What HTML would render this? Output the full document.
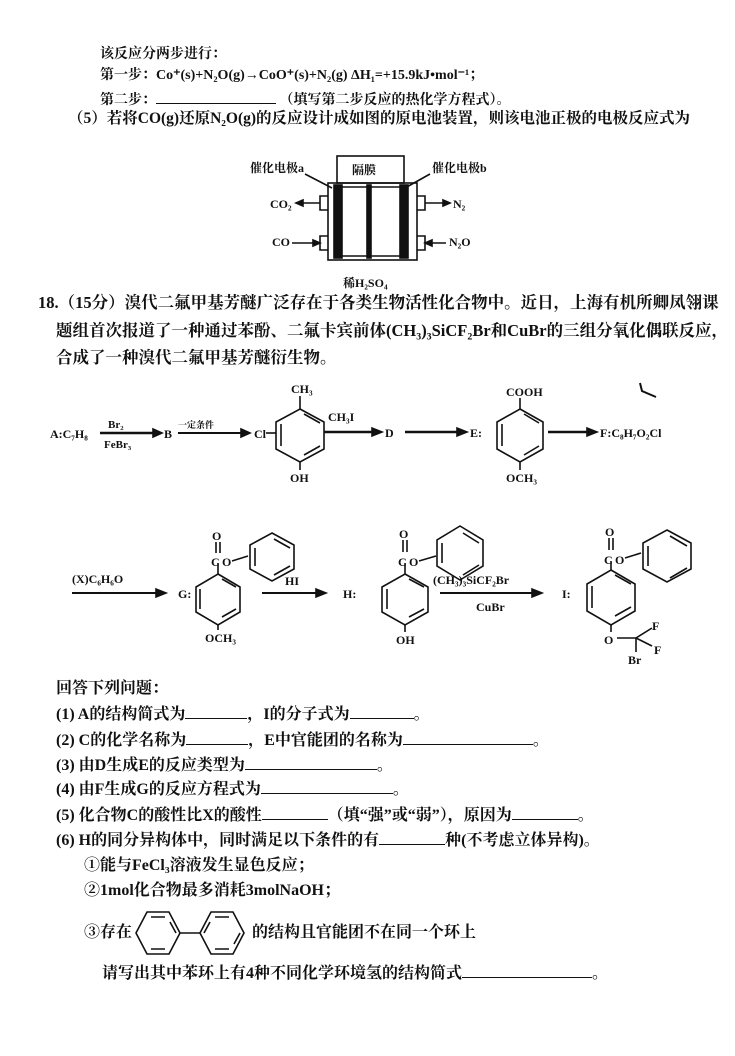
<!DOCTYPE html>
<html><head><meta charset="utf-8"><style>
body{margin:0;width:735px;height:1056px;background:#fff;position:relative;overflow:hidden;font-family:"Liberation Serif","Noto Serif CJK SC","Noto Sans CJK SC",serif;color:#111;font-weight:bold}
.t{position:absolute;white-space:nowrap;font-size:16px;line-height:18px}
.u{display:inline-block;border-bottom:1.5px solid #111;height:13px;vertical-align:baseline}
svg{position:absolute;left:0;top:0}
svg text{font-family:"Liberation Serif","Noto Serif CJK SC",serif;font-weight:bold;fill:#111}
</style></head><body>
<div class="t" style="left:100px;top:46px;font-size:14px">该反应分两步进行：</div>
<div class="t" style="left:100px;top:67px;font-size:14px">第一步：Co⁺(s)+N₂O(g)→CoO⁺(s)+N₂(g) ΔH₁=+15.9kJ•mol⁻¹；</div>
<div class="t" style="left:100px;top:90px;font-size:14px">第二步：<span class="u" style="width:120px"></span> （填写第二步反应的热化学方程式）。</div>
<div class="t" style="left:68px;top:110px;font-size:15.5px">（5）若将CO(g)还原N₂O(g)的反应设计成如图的原电池装置，则该电池正极的电极反应式为</div>
<div class="t" style="left:38px;top:294px;font-size:16.5px">18.（15分）溴代二氟甲基芳醚广泛存在于各类生物活性化合物中。近日，上海有机所卿凤翎课</div>
<div class="t" style="left:56px;top:322px;font-size:16.5px">题组首次报道了一种通过苯酚、二氟卡宾前体(CH₃)₃SiCF₂Br和CuBr的三组分氧化偶联反应，</div>
<div class="t" style="left:56px;top:349px;font-size:16.5px">合成了一种溴代二氟甲基芳醚衍生物。</div>

<div class="t" style="left:56px;top:680px">回答下列问题：</div>
<div class="t" style="left:56px;top:705px">(1) A的结构简式为<span class="u" style="width:62px"></span>，I的分子式为<span class="u" style="width:64px"></span>。</div>
<div class="t" style="left:56px;top:731px">(2) C的化学名称为<span class="u" style="width:62px"></span>，E中官能团的名称为<span class="u" style="width:130px"></span>。</div>
<div class="t" style="left:56px;top:756px">(3) 由D生成E的反应类型为<span class="u" style="width:132px"></span>。</div>
<div class="t" style="left:56px;top:780px">(4) 由F生成G的反应方程式为<span class="u" style="width:132px"></span>。</div>
<div class="t" style="left:56px;top:806px">(5) 化合物C的酸性比X的酸性<span class="u" style="width:66px"></span>（填“强”或“弱”），原因为<span class="u" style="width:66px"></span>。</div>
<div class="t" style="left:56px;top:831px">(6) H的同分异构体中，同时满足以下条件的有<span class="u" style="width:66px"></span>种(不考虑立体异构)。</div>
<div class="t" style="left:84px;top:857px">①能与FeCl₃溶液发生显色反应；</div>
<div class="t" style="left:84px;top:882px">②1mol化合物最多消耗3molNaOH；</div>
<div class="t" style="left:84px;top:924px">③存在</div>
<div class="t" style="left:252px;top:924px">的结构且官能团不在同一个环上</div>
<div class="t" style="left:102px;top:964px">请写出其中苯环上有4种不同化学环境氢的结构简式<span class="u" style="width:130px"></span>。</div>

<svg width="735" height="1056" viewBox="0 0 735 1056" stroke="#111" fill="none" stroke-width="1.6">
<!-- battery -->
<rect x="337" y="156" width="67" height="27"/>
<text x="352" y="174" font-size="12" stroke="none">隔膜</text>
<rect x="328" y="183" width="89" height="77"/>
<rect x="334" y="185" width="8" height="73" fill="#111"/>
<rect x="367" y="185" width="4" height="73" fill="#111"/>
<rect x="400" y="185" width="8" height="73" fill="#111"/>
<line x1="342" y1="187" x2="400" y2="187"/><line x1="342" y1="256" x2="400" y2="256"/>
<text x="250" y="172" font-size="12" stroke="none">催化电极a</text>
<text x="432" y="172" font-size="12" stroke="none">催化电极b</text>
<line x1="305" y1="174" x2="332" y2="188"/><line x1="430" y1="174" x2="405" y2="188"/>
<text x="270" y="208" font-size="12" stroke="none">CO₂</text>
<text x="272" y="246" font-size="12" stroke="none">CO</text>
<text x="453" y="208" font-size="12" stroke="none">N₂</text>
<text x="449" y="246" font-size="12" stroke="none">N₂O</text>
<path d="M328 196h-8v14h8M328 236h-8v14h8M417 196h8v14h-8M417 236h8v14h-8"/>
<line x1="320" y1="203" x2="298" y2="203"/><path d="M296 203l7-3v6z" fill="#111"/>
<line x1="292" y1="243" x2="318" y2="243"/><path d="M320 243l-7-3v6z" fill="#111"/>
<line x1="425" y1="203" x2="448" y2="203"/><path d="M450 203l-7-3v6z" fill="#111"/>
<line x1="446" y1="243" x2="427" y2="243"/><path d="M425 243l7-3v6z" fill="#111"/>
<text x="343" y="287" font-size="12" stroke="none">稀H₂SO₄</text>

<!-- row 1 -->
<text x="50" y="438" font-size="12" stroke="none">A:C₇H₈</text>
<text x="108" y="428" font-size="11" stroke="none">Br₂</text>
<text x="104" y="448" font-size="11" stroke="none">FeBr₃</text>
<line x1="100" y1="433" x2="160" y2="433" stroke-width="2.5"/><path d="M162 433l-9-4v8z" fill="#111"/>
<text x="164" y="438" font-size="12" stroke="none">B</text>
<text x="178" y="428" font-size="9" stroke="none">一定条件</text>
<line x1="178" y1="433" x2="248" y2="433" stroke-width="2"/><path d="M250 433l-9-4v8z" fill="#111"/>
<text x="254" y="438" font-size="12" stroke="none">Cl</text>
<path d="M300 409l24 13v27l-24 13l-24-13v-27z"/>
<path d="M304 414l16 9M320 446l-16 9M281 424v22"/>
<line x1="300" y1="409" x2="300" y2="396"/><line x1="300" y1="462" x2="300" y2="470"/>
<text x="291" y="393" font-size="12" stroke="none">CH₃</text>
<text x="290" y="482" font-size="12" stroke="none">OH</text>
<line x1="266" y1="433" x2="276" y2="433"/>
<text x="328" y="421" font-size="12" stroke="none">CH₃I</text>
<line x1="324" y1="432" x2="378" y2="432" stroke-width="2.5"/><path d="M382 432l-10-4v8z" fill="#111"/>
<text x="385" y="437" font-size="12" stroke="none">D</text>
<line x1="405" y1="432" x2="463" y2="432" stroke-width="2.5"/><path d="M467 432l-10-4v8z" fill="#111"/>
<text x="470" y="437" font-size="12" stroke="none">E:</text>
<path d="M520 409l23 13v27l-23 13l-23-13v-27z"/>
<path d="M524 414l15 9M539 446l-15 9M502 424v22"/>
<line x1="520" y1="409" x2="520" y2="398"/><line x1="520" y1="462" x2="520" y2="470"/>
<text x="506" y="396" font-size="12" stroke="none">COOH</text>
<text x="506" y="482" font-size="12" stroke="none">OCH₃</text>
<line x1="548" y1="432" x2="593" y2="432" stroke-width="2.5"/><path d="M597 432l-10-4v8z" fill="#111"/>
<text x="600" y="437" font-size="12" stroke="none">F:C₈H₇O₂Cl</text>
<path d="M640 383l2 8l14 6" stroke-width="2"/>

<!-- row 2 -->
<text x="72" y="583" font-size="12" stroke="none">(X)C₆H₆O</text>
<line x1="72" y1="593" x2="162" y2="593" stroke-width="2"/><path d="M166 593l-10-4v8z" fill="#111"/>
<text x="178" y="598" font-size="12" stroke="none">G:</text>
<path d="M218 574l22 13v25l-22 13l-22-13v-25z"/>
<path d="M222 579l14 8M236 609l-14 8M200 589v20"/>
<line x1="218" y1="574" x2="218" y2="563"/>
<text x="211" y="566" font-size="12" stroke="none">C</text>
<line x1="216" y1="553" x2="216" y2="542"/><line x1="220" y1="553" x2="220" y2="542"/>
<text x="212" y="540" font-size="12" stroke="none">O</text>
<text x="222" y="566" font-size="12" stroke="none">O</text>
<line x1="232" y1="561" x2="248" y2="556"/>
<path d="M272 533l22 12v24l-22 12l-22-12v-24z"/>
<path d="M255 548v18M290 548l-16-9M274 575l16-9"/>
<line x1="218" y1="625" x2="218" y2="630"/>
<text x="205" y="642" font-size="12" stroke="none">OCH₃</text>
<text x="285" y="585" font-size="12" stroke="none">HI</text>
<line x1="262" y1="593" x2="322" y2="593" stroke-width="2"/><path d="M326 593l-10-4v8z" fill="#111"/>
<text x="343" y="598" font-size="12" stroke="none">H:</text>
<path d="M405 574l23 13v25l-23 13l-23-13v-25z"/>
<path d="M409 579l15 8M424 609l-15 8M387 589v20"/>
<line x1="405" y1="574" x2="405" y2="563"/>
<text x="398" y="566" font-size="12" stroke="none">C</text>
<line x1="403" y1="552" x2="403" y2="540"/><line x1="407" y1="552" x2="407" y2="540"/>
<text x="399" y="538" font-size="12" stroke="none">O</text>
<text x="409" y="566" font-size="12" stroke="none">O</text>
<line x1="419" y1="561" x2="436" y2="556"/>
<path d="M460 526l23 14v26l-23 14l-23-14v-26z"/>
<path d="M442 543v20M479 543l-16-10M463 575l16-10"/>
<line x1="405" y1="625" x2="405" y2="632"/>
<text x="396" y="644" font-size="12" stroke="none">OH</text>
<text x="433" y="584" font-size="12" stroke="none">(CH₃)₃SiCF₂Br</text>
<line x1="440" y1="593" x2="538" y2="593" stroke-width="2"/><path d="M542 593l-10-4v8z" fill="#111"/>
<text x="476" y="611" font-size="12" stroke="none">CuBr</text>
<text x="562" y="598" font-size="12" stroke="none">I:</text>
<path d="M611 570l24 14v27l-24 14l-24-14v-27z"/>
<path d="M615 575l16 9M631 607l-16 9M592 586v22"/>
<line x1="611" y1="570" x2="611" y2="561"/>
<text x="604" y="564" font-size="12" stroke="none">C</text>
<line x1="609" y1="550" x2="609" y2="538"/><line x1="613" y1="550" x2="613" y2="538"/>
<text x="605" y="536" font-size="12" stroke="none">O</text>
<text x="615" y="564" font-size="12" stroke="none">O</text>
<line x1="625" y1="558" x2="641" y2="553"/>
<path d="M667 530l24 13v26l-24 13l-24-13v-26z"/>
<path d="M648 546v20M687 546l-17-10M670 578l17-10"/>
<line x1="611" y1="625" x2="611" y2="632"/>
<text x="604" y="644" font-size="12" stroke="none">O</text>
<line x1="617" y1="638" x2="636" y2="638"/>
<line x1="636" y1="638" x2="652" y2="628"/><line x1="636" y1="638" x2="652" y2="646"/>
<line x1="636" y1="638" x2="636" y2="652"/>
<text x="652" y="630" font-size="12" stroke="none">F</text>
<text x="654" y="654" font-size="12" stroke="none">F</text>
<text x="628" y="664" font-size="12" stroke="none">Br</text>

<!-- biphenyl -->
<path d="M147 912h22l11 21l-11 21h-22l-11-21z"/>
<path d="M151 917h14M165 949h-14M176 933l-6-11"/>
<line x1="180" y1="933" x2="200" y2="933"/>
<path d="M211 912h22l11 21l-11 21h-22l-11-21z"/>
<path d="M215 917h14M229 949h-14M204 933l6-11M240 933l-6 11"/>
</svg>
</body></html>
